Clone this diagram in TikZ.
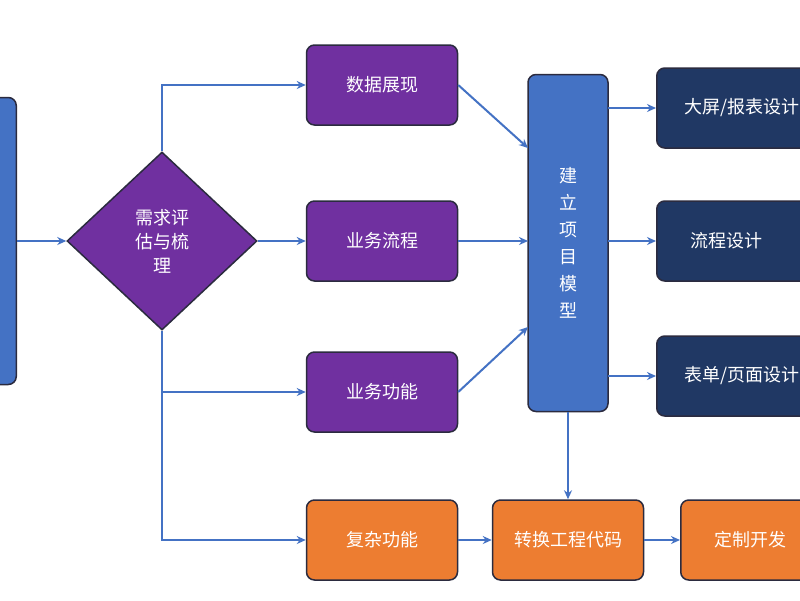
\documentclass[tikz,border=0pt]{standalone}
\usepackage{fontspec}
\setmainfont{Noto Sans CJK SC}
\usetikzlibrary{shapes.geometric,arrows.meta}
\definecolor{pur}{HTML}{7030A0}
\definecolor{blu}{HTML}{4472C4}
\definecolor{nav}{HTML}{203864}
\definecolor{org}{HTML}{ED7D31}
\definecolor{edg}{HTML}{2B2B3F}
\begin{document}
\begin{tikzpicture}[x=1pt,y=-1pt,
  box/.style={draw=edg,line width=1.5pt,rounded corners=8pt,minimum width=151pt,minimum height=80pt,text=white,font=\fontsize{18}{22}\selectfont},
  arr/.style={draw=blu,line width=2pt,-{Stealth[length=9pt,width=8pt]}},
  ln/.style={draw=blu,line width=2pt}]
\useasboundingbox (0,0) rectangle (800,600);
\clip (0,0) rectangle (800,600);
\fill[white] (0,0) rectangle (800,600);
\node[box,fill=blu,minimum width=60pt,minimum height=287pt,anchor=east] (L) at (17,241) {};
\node[diamond,draw=edg,line width=1.5pt,fill=pur,text=white,minimum width=190pt,minimum height=178pt,inner sep=0pt,align=center,font=\fontsize{18}{24}\selectfont] (D) at (162,241) {需求评\\估与梳\\理};
\node[box,fill=pur] (P1) at (382,85) {数据展现};
\node[box,fill=pur] (P2) at (382,241) {业务流程};
\node[box,fill=pur] (P3) at (382,392) {业务功能};
\node[box,fill=blu,minimum width=80pt,minimum height=337pt,align=center,font=\fontsize{18}{27}\selectfont] (M) at (568,243) {建\\立\\项\\目\\模\\型};
\node[box,fill=nav,anchor=west,minimum width=165pt] (N1) at (656,108) {\hspace*{5pt}大屏/报表设计};
\node[box,fill=nav,anchor=west,minimum width=165pt] (N2) at (656,241) {\hspace*{-25pt}流程设计};
\node[box,fill=nav,anchor=west,minimum width=165pt] (N3) at (656,376) {\hspace*{5pt}表单/页面设计};
\node[box,fill=org] (O1) at (382,540) {复杂功能};
\node[box,fill=org] (O2) at (568,540) {转换工程代码};
\node[box,fill=org,anchor=west,minimum width=165pt] (O3) at (680,540) {\hspace*{-25pt}定制开发};
\draw[arr] (L.east) -- (D.west);
\draw[arr] (D.north) |- (P1.west);
\draw[arr] (D.east) -- (P2.west);
\draw[arr] (D.south) |- (O1.west);
\coordinate (B) at (162,392);
\draw[arr] (B) -- (P3.west);
\draw[arr] (P1.east) -- (528,148);
\draw[arr] (P2.east) -- (528,241);
\draw[arr] (P3.east) -- (528,327);
\draw[arr] (608,108) -- (N1.west);
\draw[arr] (608,241) -- (N2.west);
\draw[arr] (608,376) -- (N3.west);
\draw[arr] (M.south) -- (O2.north);
\draw[arr] (O1.east) -- (O2.west);
\draw[arr] (O2.east) -- (O3.west);
\end{tikzpicture}
\end{document}
